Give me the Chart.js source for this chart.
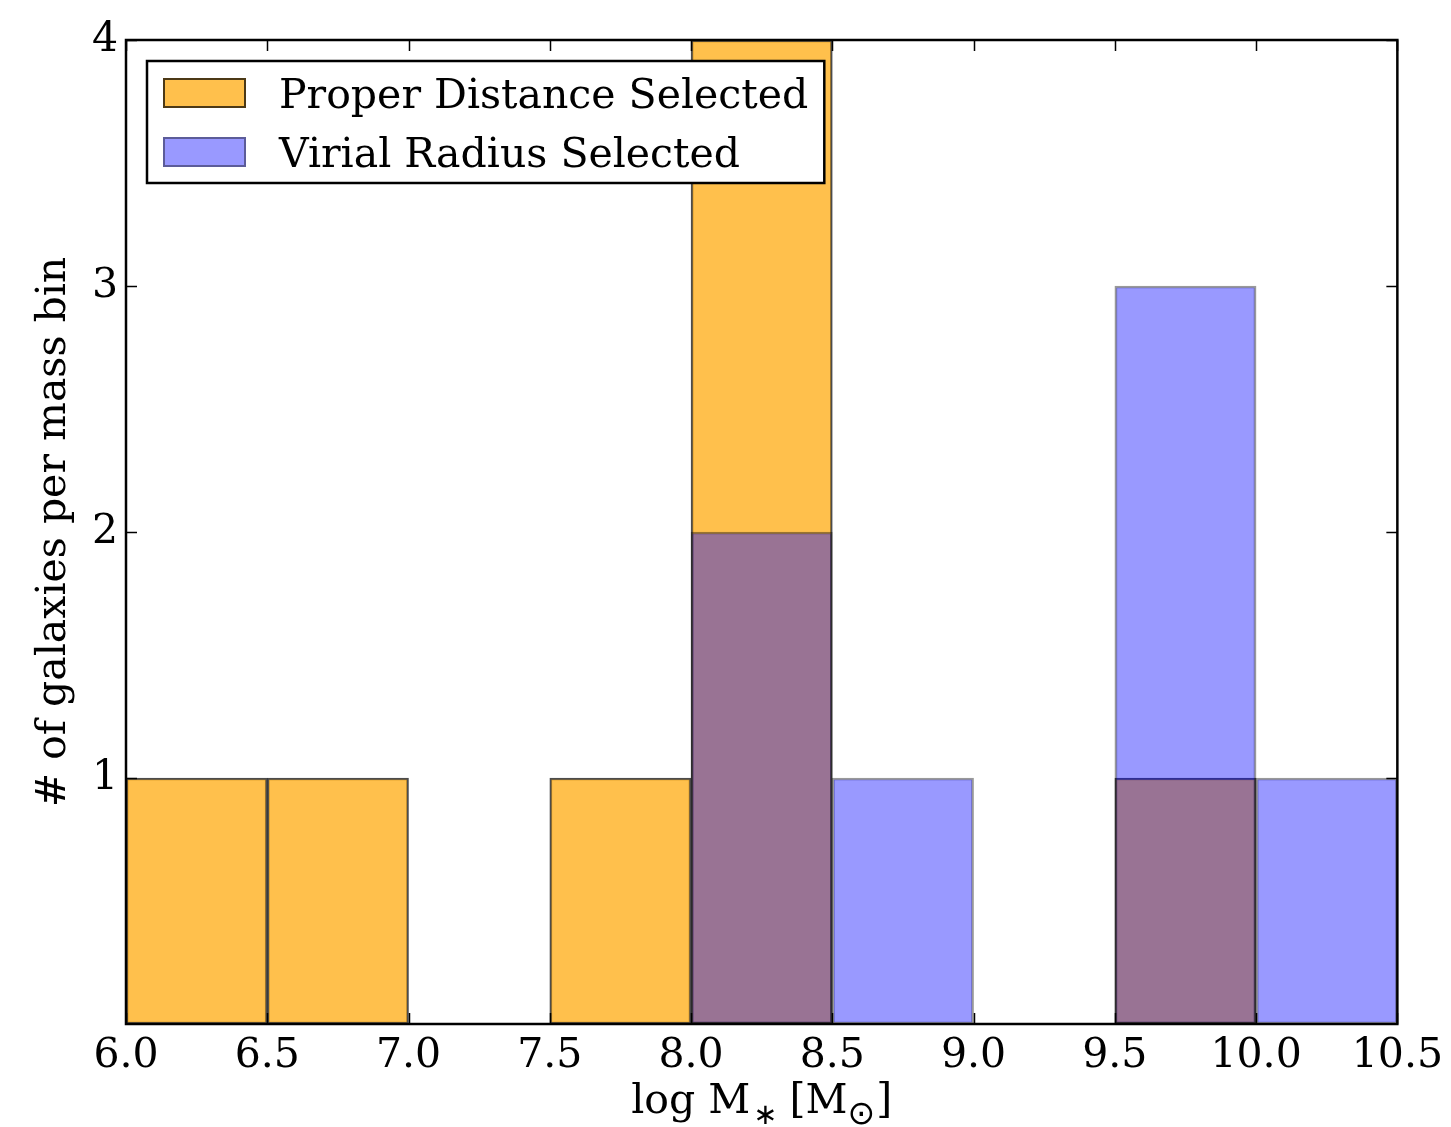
<!DOCTYPE html>
<html>
<head>
<meta charset="utf-8">
<title>Galaxies per mass bin</title>
<script src="https://cdn.jsdelivr.net/npm/chart.js@4.4.1/dist/chart.umd.min.js"></script>
<style>
  html, body { margin: 0; padding: 0; background: #fff; }
  canvas { display: block; }
</style>
</head>
<body>
<canvas id="hist" width="1451" height="1127"></canvas>
<script>
// --- histogram data: 0.5 dex bins in log stellar mass ---
const binEdges = [6.0, 6.5, 7.0, 7.5, 8.0, 8.5, 9.0, 9.5, 10.0, 10.5];
const properCounts = [1, 1, 0, 1, 4, 0, 0, 1, 0];
const virialCounts = [0, 0, 0, 0, 2, 1, 0, 3, 1];
const xTicks = [6.0, 6.5, 7.0, 7.5, 8.0, 8.5, 9.0, 9.5, 10.0, 10.5];
const yTicks = [1, 2, 3, 4];
const seriesLabels = ["Proper Distance Selected", "Virial Radius Selected"];

const FONT = "'DejaVu Serif', serif";
const SYM_FONT = "'DejaVu Sans', sans-serif";

// one bar per non-empty bin, centred on the bin
function toPoints(counts) {
  const pts = [];
  counts.forEach((n, i) => {
    if (n > 0) pts.push({ x: (binEdges[i] + binEdges[i + 1]) / 2, y: n });
  });
  return pts;
}

// frame, inward ticks, legend and the x label with subscripts
const decorations = {
  id: "decorations",
  afterDatasetsDraw(chart) {
    const ctx = chart.ctx;
    const { left, right, top, bottom } = chart.chartArea;
    const xs = chart.scales.x;
    const ys = chart.scales.y;
    ctx.save();

    // tick marks on all four sides, pointing in
    ctx.strokeStyle = "#000";
    ctx.lineWidth = 1.5;
    ctx.beginPath();
    xTicks.forEach((v) => {
      const px = Math.round(xs.getPixelForValue(v)) + 0.5;
      ctx.moveTo(px, bottom); ctx.lineTo(px, bottom - 11);
      ctx.moveTo(px, top); ctx.lineTo(px, top + 11);
    });
    yTicks.forEach((v) => {
      const py = Math.round(ys.getPixelForValue(v)) + 0.5;
      ctx.moveTo(left, py); ctx.lineTo(left + 11, py);
      ctx.moveTo(right, py); ctx.lineTo(right - 11, py);
    });
    ctx.stroke();

    // axes box
    ctx.lineWidth = 2.5;
    ctx.strokeRect(left, top, right - left, bottom - top);

    // legend
    const ds = chart.data.datasets;
    ctx.font = "41px " + FONT;
    const textW = Math.max(...ds.map((d) => ctx.measureText(d.label).width));
    const bx = left + 21, by = top + 21;
    const textX = bx + 132;
    const bw = textX - bx + textW + 16, bh = 122;
    ctx.fillStyle = "#fff";
    ctx.fillRect(bx, by, bw, bh);
    ctx.lineWidth = 2.5;
    ctx.strokeStyle = "#000";
    ctx.strokeRect(bx, by, bw, bh);
    ds.forEach((d, i) => {
      const py = by + 17 + i * 59;
      ctx.fillStyle = "#fff";
      ctx.fillRect(bx + 16, py, 83, 30);
      ctx.fillStyle = d.backgroundColor;
      ctx.fillRect(bx + 16, py, 83, 30);
      ctx.lineWidth = 2;
      ctx.strokeStyle = d.borderColor;
      ctx.strokeRect(bx + 17, py + 1, 81, 28);
      ctx.fillStyle = "#000";
      ctx.textAlign = "left";
      ctx.textBaseline = "alphabetic";
      ctx.fillText(d.label, textX, py + 30);
    });

    // x axis label: log M_* [M_sun]
    const parts = [
      { t: "log M", font: "41px " + FONT, gap: 0, dy: 0 },
      { t: "\u2217", font: "29px " + SYM_FONT, gap: 3, dy: 11 },
      { t: "[M", font: "41px " + FONT, gap: 12, dy: 0 },
      { t: "\u2299", font: "33px " + SYM_FONT, gap: 0, dy: 11 },
      { t: "]", font: "41px " + FONT, gap: 1, dy: 0 },
    ];
    let total = 0;
    parts.forEach((p) => {
      ctx.font = p.font;
      p.w = ctx.measureText(p.t).width;
      total += p.w + p.gap;
    });
    let x = (left + right) / 2 - total / 2;
    const base = bottom + 89;
    ctx.fillStyle = "#000";
    ctx.textAlign = "left";
    ctx.textBaseline = "alphabetic";
    parts.forEach((p) => {
      ctx.font = p.font;
      x += p.gap;
      ctx.fillText(p.t, x, base + p.dy);
      x += p.w;
    });

    ctx.restore();
  },
};

new Chart(document.getElementById("hist"), {
  type: "bar",
  data: {
    datasets: [
      {
        label: seriesLabels[0],
        data: toPoints(properCounts),
        backgroundColor: "rgba(255, 165, 0, 0.7)",
        borderColor: "rgba(0, 0, 0, 0.7)",
        borderWidth: 2,
        borderSkipped: false,
        order: 2,
      },
      {
        label: seriesLabels[1],
        data: toPoints(virialCounts),
        backgroundColor: "rgba(0, 0, 255, 0.4)",
        borderColor: "rgba(0, 0, 0, 0.4)",
        borderWidth: 2,
        borderSkipped: false,
        order: 1,
      },
    ],
  },
  options: {
    responsive: false,
    animation: false,
    grouped: false,
    barPercentage: 1,
    categoryPercentage: 1,
    layout: { padding: { top: 40, right: 53, left: 0, bottom: 0 } },
    plugins: { legend: { display: false }, tooltip: { enabled: false } },
    scales: {
      x: {
        type: "linear",
        min: 6,
        max: 10.5,
        offset: false,
        grid: { display: false, drawTicks: false },
        border: { display: false },
        afterBuildTicks: (s) => { s.ticks = xTicks.map((v) => ({ value: v })); },
        afterFit: (s) => { s.height = 103; },
        ticks: {
          autoSkip: false,
          maxRotation: 0,
          padding: 8,
          color: "#000",
          font: { family: FONT, size: 41 },
          callback: (v) => Number(v).toFixed(1),
        },
      },
      y: {
        min: 0,
        max: 4,
        grid: { display: false, drawTicks: false },
        border: { display: false },
        afterBuildTicks: (s) => { s.ticks = yTicks.map((v) => ({ value: v })); },
        afterFit: (s) => { s.width = 126; },
        title: {
          display: true,
          text: "# of galaxies per mass bin",
          color: "#000",
          font: { family: FONT, size: 41 },
          padding: { top: 30, bottom: 0 },
        },
        ticks: {
          padding: 8,
          color: "#000",
          font: { family: FONT, size: 41 },
          callback: (v) => String(v),
        },
      },
    },
  },
  plugins: [decorations],
});
</script>
</body>
</html>
